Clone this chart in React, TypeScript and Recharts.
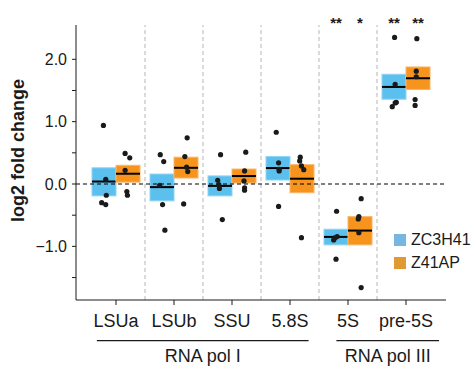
import React from "react";
import {
  ComposedChart,
  Bar,
  Scatter,
  XAxis,
  YAxis,
  ReferenceLine,
  LabelList,
} from "recharts";

const categories = ["LSUa", "LSUb", "SSU", "5.8S", "5S", "pre-5S"];

// mean and mean ± SE box edges
const zcMean = [0.04, -0.05, -0.03, 0.256, -0.848, 1.557];
const zcLow = [-0.19, -0.27, -0.19, 0.064, -0.976, 1.36];
const zcHigh = [0.26, 0.16, 0.13, 0.44, -0.725, 1.76];
const apMean = [0.165, 0.26, 0.128, 0.085, -0.747, 1.696];
const apLow = [0.03, 0.096, 0.016, -0.14, -0.976, 1.515];
const apHigh = [0.3, 0.43, 0.24, 0.31, -0.523, 1.877];

// replicate points
const zcDots = [
  [0.94, 0.075, -0.18, -0.3, -0.33],
  [0.47, 0.36, -0.02, -0.33, -0.74],
  [0.47, 0.06, -0.01, -0.07, -0.57],
  [0.83, 0.34, 0.235, 0.21, -0.36],
  [-0.437, -0.843, -0.864, -0.896, -1.205],
  [2.35, 1.6, 1.31, 1.3, 1.24],
];
const apDots = [
  [0.49, 0.42, 0.22, -0.12, -0.18],
  [0.74, 0.44, 0.27, 0.2, -0.32],
  [0.51, 0.21, 0.05, -0.06, -0.1],
  [0.43, 0.37, 0.29, 0.23, -0.86],
  [-0.235, -0.523, -0.56, -0.78, -1.66],
  [2.33, 1.81, 1.72, 1.355, 1.26],
];
// small horizontal jitter of the points, in category units
const zcJitter = [
  [-0.01, 0.03, 0.04, -0.04, 0.03],
  [-0.03, 0.03, -0.04, 0.01, 0.05],
  [0.01, -0.04, -0.02, -0.01, 0.04],
  [-0.03, 0.01, 0.02, 0.02, 0.01],
  [0.01, 0.02, -0.02, -0.04, 0],
  [0.01, 0.02, 0.04, 0.02, -0.03],
];
const apJitter = [
  [-0.05, 0.03, -0.05, -0.02, -0.01],
  [0.02, -0.02, 0.01, 0.03, -0.04],
  [0.03, 0.01, 0, 0.01, 0.01],
  [-0.03, -0.04, -0.01, 0.03, -0.01],
  [0.02, -0.02, -0.03, -0.02, 0.02],
  [-0.02, -0.03, -0.03, -0.05, -0.05],
];

const zcSig = ["", "", "", "", "**", "**"];
const apSig = ["", "", "", "", "*", "**"];

const yTicks = [-1.5, -1, -0.5, 0, 0.5, 1, 1.5, 2];
const separators = [0.5, 1.5, 2.5, 3.5, 4.5];
const groups = [
  { label: "RNA pol I", from: -0.33, to: 3.32 },
  { label: "RNA pol III", from: 3.8, to: 5.57 },
];
const legendItems = [
  { label: "ZC3H41", color: "#78b6e2" },
  { label: "Z41AP", color: "#e19a32" },
];

const BLUE = "#5bc0ee";
const ORANGE = "#f7941d";
const INK = "#1a1a1a";
const FONT = "'Liberation Sans', Arial, sans-serif";
const BOX_OFFSET = 0.207; // half a box, in category units

const rows = categories.map((name, i) => ({
  name,
  zc: [zcLow[i], zcHigh[i]],
  ap: [apLow[i], apHigh[i]],
  zcMean: zcMean[i],
  apMean: apMean[i],
  zcSig: zcSig[i],
  apSig: apSig[i],
}));

const zcPoints = categories.flatMap((_, i) =>
  zcDots[i].map((v, k) => ({ x: i - BOX_OFFSET + zcJitter[i][k], y: v }))
);
const apPoints = categories.flatMap((_, i) =>
  apDots[i].map((v, k) => ({ x: i + BOX_OFFSET + apJitter[i][k], y: v }))
);

function Crossbar(props: any) {
  const { x, y, width, height, fill, stroke, range, mean } = props;
  const top = Math.min(y, y + height);
  const h = Math.abs(height);
  const [lo, hi] = range;
  const my = top + ((hi - mean) / (hi - lo)) * h;
  return (
    <g>
      <rect x={x} y={top} width={width} height={h} fill={fill} stroke={stroke} strokeWidth={1} />
      <line x1={x} x2={x + width} y1={my} y2={my} stroke="#000" strokeWidth={2} />
    </g>
  );
}

function Dot(props: any) {
  return <circle cx={props.cx} cy={props.cy} r={2.6} fill={INK} />;
}

function Stars(props: any) {
  const { x, width, value } = props;
  if (!value) return null;
  return (
    <text
      x={x + width / 2}
      y={27.5}
      textAnchor="middle"
      fontSize={15}
      fontWeight="bold"
      fill={INK}
      fontFamily={FONT}
    >
      {value}
    </text>
  );
}

function YLabel(props: any) {
  const vb = props.viewBox;
  const cx = vb.x + 18;
  const cy = vb.y + vb.height / 2 - 12;
  return (
    <text
      x={cx}
      y={cy}
      transform={`rotate(-90, ${cx}, ${cy})`}
      textAnchor="middle"
      dominantBaseline="central"
      fontSize={18}
      fontWeight="bold"
      fill={INK}
      fontFamily={FONT}
    >
      log2 fold change
    </text>
  );
}

function fmt(v: number) {
  if (!Number.isInteger(v)) return "";
  return v.toFixed(1).replace("-", "\u2212");
}

function LegendBox() {
  return (
    <div
      style={{
        position: "absolute",
        left: 394,
        top: 229,
        fontFamily: FONT,
        fontSize: 16,
        color: INK,
      }}
    >
      {legendItems.map((it) => (
        <div key={it.label} style={{ display: "flex", alignItems: "center", height: 22.5 }}>
          <span style={{ width: 12, height: 12, background: it.color, marginRight: 5 }} />
          <span>{it.label}</span>
        </div>
      ))}
    </div>
  );
}

export default function App() {
  return (
    <div style={{ position: "absolute", left: 0, top: 0, width: 471, height: 367, background: "#fff" }}>
      <ComposedChart
        width={471}
        height={367}
        data={rows}
        margin={{ top: 25, right: 25, bottom: 0, left: 0 }}
        barGap={0}
        style={{ fontFamily: FONT }}
      >
        <XAxis
          xAxisId="cat"
          dataKey="name"
          padding={{ left: 11, right: 11 }}
          height={67}
          tickSize={5}
          tickMargin={9}
          stroke={INK}
          tick={{ fill: INK, fontSize: 18, fontFamily: FONT }}
          interval={0}
        />
        <XAxis
          xAxisId="j"
          type="number"
          dataKey="x"
          domain={[-0.5, 5.5]}
          padding={{ left: 11, right: 11 }}
          allowDataOverflow
          hide
        />
        <YAxis
          domain={[-1.86, 2.55]}
          ticks={yTicks}
          tickFormatter={fmt}
          width={76}
          tickSize={4}
          tickMargin={5}
          stroke={INK}
          tick={{ fill: INK, fontSize: 16, fontFamily: FONT }}
          label={{ content: YLabel }}
        />
        {separators.map((s) => (
          <ReferenceLine
            key={s}
            xAxisId="j"
            x={s}
            stroke="#b5b5b5"
            strokeDasharray="4 3"
          />
        ))}
        <Bar
          xAxisId="cat"
          dataKey="zc"
          barSize={24}
          fill={BLUE}
          isAnimationActive={false}
          shape={(p: any) => (
            <Crossbar {...p} fill={BLUE} stroke="#8fd4f4" range={p.payload.zc} mean={p.payload.zcMean} />
          )}
        >
          <LabelList dataKey="zcSig" content={Stars} />
        </Bar>
        <Bar
          xAxisId="cat"
          dataKey="ap"
          barSize={24}
          fill={ORANGE}
          isAnimationActive={false}
          shape={(p: any) => (
            <Crossbar {...p} fill={ORANGE} stroke="#f9b56c" range={p.payload.ap} mean={p.payload.apMean} />
          )}
        >
          <LabelList dataKey="apSig" content={Stars} />
        </Bar>
        <ReferenceLine xAxisId="j" y={0} stroke="#000" strokeDasharray="4 3" />
        <Scatter xAxisId="j" data={zcPoints} dataKey="y" shape={Dot} isAnimationActive={false} />
        <Scatter xAxisId="j" data={apPoints} dataKey="y" shape={Dot} isAnimationActive={false} />
        {groups.map((g) => (
          <ReferenceLine
            key={g.label}
            xAxisId="j"
            segment={[
              { x: g.from, y: -2.512 },
              { x: g.to, y: -2.512 },
            ]}
            ifOverflow="visible"
            stroke={INK}
            strokeWidth={1.3}
            label={{
              value: g.label,
              position: "bottom",
              offset: 9,
              fill: INK,
              fontSize: 18,
              fontFamily: FONT,
            }}
          />
        ))}
      </ComposedChart>
      <LegendBox />
    </div>
  );
}
